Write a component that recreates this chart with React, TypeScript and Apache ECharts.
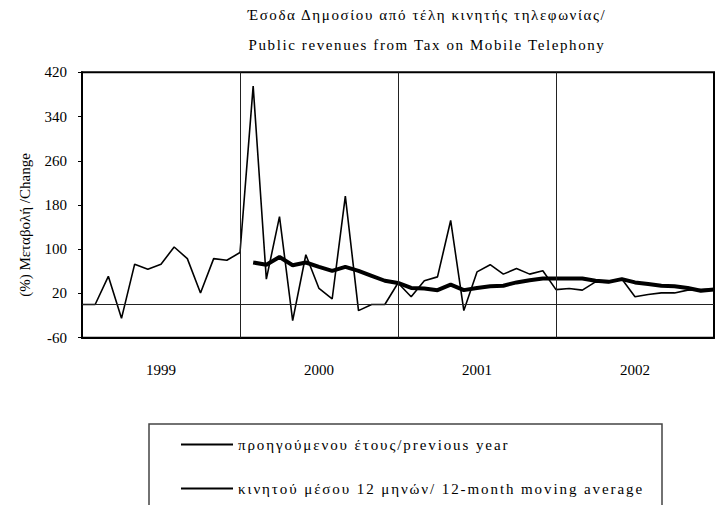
import React, { useEffect, useRef } from "react";
import * as echarts from "echarts";

const titleLines = [
  "Έσοδα Δημοσίου από τέλη κινητής τηλεφωνίας/",
  "Public revenues from Tax on Mobile Telephony",
];
const yAxisTitle = "(%) Μεταβολή /Change";
const years = ["1999", "2000", "2001", "2002"];
const yearBoundaries = [12, 24, 36];
const seriesNames = [
  "προηγούμενου έτους/previous year",
  "κινητού μέσου 12 μηνών/ 12-month moving average",
];

// monthly positions from Jan 1999 (index 0) to Jan 2003 (index 48)
const previousYear = [
  0, 0, 51, -25, 73, 64, 73, 104, 83, 21, 83, 80,
  94, 395, 46, 159, -29, 90, 29, 10, 196, -11, 0, 0,
  39, 14, 43, 50, 152, -11, 59, 72, 55, 65, 55, 61,
  27, 29, 26, 41, 40, 46, 14, 18, 21, 21, 26, 27,
  28,
];
const movingAverage: (number | null)[] = [
  null, null, null, null, null, null, null, null, null, null, null, null,
  null, 76, 72, 86, 71, 76, 68, 61, 68, 61, 52, 43,
  39, 30, 29, 26, 36, 26, 30, 33, 34, 40, 44, 47,
  47, 47, 47, 43, 41, 46, 40, 37, 34, 33, 30, 25,
  27,
];

const FONT = "Liberation Serif";

const css = `
.chart-box text[style*="15.01px"] { letter-spacing: 1.6px; }
.chart-box text[style*="15.02px"] { letter-spacing: 1.9px; }
`;

export default function App() {
  const ref = useRef<HTMLDivElement>(null);
  useEffect(() => {
    if (!ref.current) return;
    const chart = echarts.init(ref.current, undefined, { renderer: "svg" });
    const left = 82;
    const top = 72.3;
    const height = 265.4;
    const width = 641.8;
    chart.setOption({
      animation: false,
      backgroundColor: "#fff",
      textStyle: { fontFamily: FONT, color: "#000" },
      grid: {
        left,
        top,
        width,
        height,
        show: true,
        borderColor: "#000",
        borderWidth: 2,
        backgroundColor: "transparent",
        containLabel: false,
      },
      xAxis: {
        type: "value",
        min: 0,
        max: 48,
        interval: 6,
        axisLine: { show: true, onZero: false, lineStyle: { color: "#000", width: 2 } },
        axisTick: { show: false },
        splitLine: { show: false },
        axisLabel: {
          margin: 32,
          verticalAlign: "middle",
          fontSize: 15,
          fontFamily: FONT,
          color: "#000",
          formatter: (v: number) =>
            v % 12 === 6 ? years[(v - 6) / 12] ?? "" : "",
        },
      },
      yAxis: {
        type: "value",
        min: -60,
        max: 420,
        interval: 80,
        axisLine: { show: true, onZero: false, lineStyle: { color: "#000", width: 2 } },
        axisTick: { show: true, inside: false, length: 4, lineStyle: { color: "#000" } },
        splitLine: { show: false },
        axisLabel: { margin: 15, fontSize: 15, fontFamily: FONT, color: "#000" },
      },
      legend: {
        orient: "vertical",
        left: 180,
        top: 437,
        padding: 0,
        itemWidth: 52,
        itemHeight: 14,
        itemGap: 29,
        itemStyle: { opacity: 0 },
        textStyle: { fontSize: 15.02, fontFamily: FONT, color: "#000" },
        data: seriesNames,
      },
      graphic: [
        {
          type: "text",
          x: 427,
          y: 15,
          style: {
            text: titleLines[0],
            fontSize: 15.01,
            fontFamily: FONT,
            fill: "#000",
            textAlign: "center",
            textVerticalAlign: "middle",
          },
        },
        {
          type: "text",
          x: 427,
          y: 45,
          style: {
            text: titleLines[1],
            fontSize: 15.01,
            fontFamily: FONT,
            fill: "#000",
            textAlign: "center",
            textVerticalAlign: "middle",
          },
        },
        {
          type: "text",
          x: 25,
          y: 225,
          rotation: Math.PI / 2,
          style: {
            text: yAxisTitle,
            fontSize: 15,
            fontFamily: FONT,
            fill: "#000",
            textAlign: "center",
            textVerticalAlign: "middle",
          },
        },
        {
          type: "rect",
          shape: { x: 149, y: 424, width: 513, height: 120 },
          style: { fill: "none", stroke: "#444", lineWidth: 1.5 },
        },
      ],
      series: [
        {
          name: seriesNames[0],
          type: "line",
          symbol: "none",
          data: previousYear.map((v, i) => [i, v]),
          lineStyle: { color: "#000", width: 1.6 },
          itemStyle: { color: "#000" },
          z: 3,
          markLine: {
            silent: true,
            symbol: ["none", "none"],
            label: { show: false },
            lineStyle: { color: "#222", width: 1, type: "solid" },
            emphasis: { disabled: true },
            data: [
              ...yearBoundaries.map((b) => ({ xAxis: b })),
              { yAxis: 0 },
            ],
          },
        },
        {
          name: seriesNames[1],
          type: "line",
          symbol: "none",
          connectNulls: false,
          data: movingAverage.map((v, i) => [i, v]),
          lineStyle: { color: "#000", width: 4 },
          itemStyle: { color: "#000" },
          z: 4,
        },
      ],
    });
    return () => chart.dispose();
  }, []);
  return (
    <>
      <style>{css}</style>
      <div
        className="chart-box"
        ref={ref}
        style={{ position: "absolute", left: 0, top: 0, width: 717, height: 505, background: "#fff" }}
      />
    </>
  );
}
